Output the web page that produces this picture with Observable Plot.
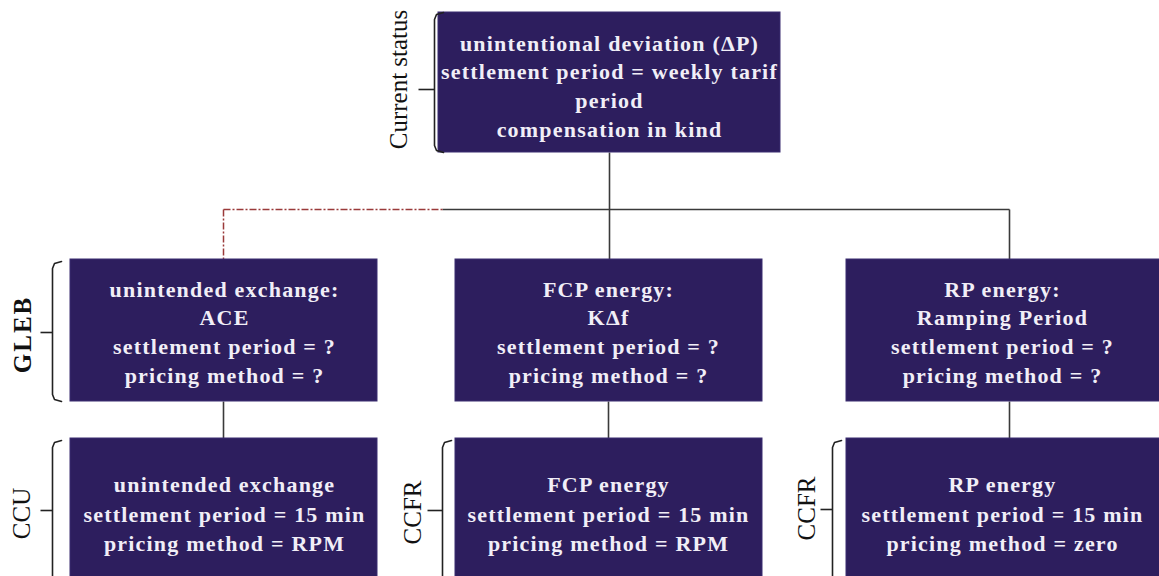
<!DOCTYPE html>
<html><head><meta charset="utf-8">
<script src="https://cdn.jsdelivr.net/npm/d3@7"></script>
<script src="https://cdn.jsdelivr.net/npm/@observablehq/plot@0.6"></script>
<style>body{margin:0;background:#fff;overflow:hidden}</style>
</head><body><div id="chart"></div>
<script>
// ---- content ----
const levelLabels = ["Current status", "GLEB", "CCU", "CCFR", "CCFR"];
const topLines = ["unintentional deviation (ΔP)", "settlement period = weekly tarif", "period", "compensation in kind"];
const glebTitles = ["unintended exchange:", "FCP energy:", "RP energy:"];
const glebQuantities = ["ACE", "KΔf", "Ramping Period"];
const glebSettlement = ["?", "?", "?"];
const glebPricing = ["?", "?", "?"];
const ccTitles = ["unintended exchange", "FCP energy", "RP energy"];
const ccSettlement = ["15 min", "15 min", "15 min"];
const ccPricing = ["RPM", "RPM", "zero"];

// ---- layout (pixels in a 1159 x 576 frame) ----
const W = 1159, H = 576;
const colX1 = [70, 455, 846], colX2 = [377, 762, 1175];
const colText = [224, 608, 1002];
const topBox = {x1: 438, x2: 780, y1: 12, y2: 152, cx: 609, cy: 84};
const row2 = {y1: 259, y2: 401, cy: 330};
const row3 = {y1: 438, y2: 600, cy: 512};
const busY = 209;

const boxes = [
  {x1: topBox.x1, x2: topBox.x2, y1: topBox.y1, y2: topBox.y2},
  ...colX1.map((x1, i) => ({x1, x2: colX2[i], y1: row2.y1, y2: row2.y2})),
  ...colX1.map((x1, i) => ({x1, x2: colX2[i], y1: row3.y1, y2: row3.y2}))
];
const upperTexts = [
  {x: topBox.cx, y: topBox.cy, t: topLines.join("\n")},
  ...glebTitles.map((t, i) => ({x: colText[i], y: row2.cy,
    t: [t, glebQuantities[i], "settlement period = " + glebSettlement[i], "pricing method = " + glebPricing[i]].join("\n")}))
];
const lowerTexts = ccTitles.map((t, i) => ({x: colText[i], y: row3.cy,
  t: [t, "settlement period = " + ccSettlement[i], "pricing method = " + ccPricing[i]].join("\n")}));

const links = [
  {x1: 609, y1: topBox.y2, x2: 609, y2: row2.y1},
  {x1: 442, y1: busY, x2: 1009, y2: busY},
  {x1: 1009, y1: busY, x2: 1009, y2: row2.y1},
  ...[223, 608, 1009].map(x => ({x1: x, y1: row2.y2, x2: x, y2: row3.y1}))
];
const redLinks = [
  {x1: 223, y1: busY, x2: 442, y2: busY},
  {x1: 223, y1: busY, x2: 223, y2: row2.y1}
];

// brackets: [x, top, bottom, tickY, tickLen]
const bracketGeom = [[434, 12, 152, 89, 16], [52, 261, 401, 332, 12], [52, 440, 590, 510, 12], [442, 440, 590, 510, 15], [832, 440, 590, 509, 12]];
const bracketPts = bracketGeom.flatMap(([x, t, b], k) => [
  {k, x: x + 9, y: t}, {k, x: x + 2, y: t + 2}, {k, x, y: t + 7}, {k, x, y: b - 7}, {k, x: x + 2, y: b - 2}, {k, x: x + 9, y: b}
]);
const ticks = bracketGeom.map(([x, t, b, ty, len]) => ({x1: x - len, x2: x, y: ty}));
const labelPos = [[398, 79], [22, 334], [21, 513], [412, 512], [806, 508]];
const labels = levelLabels.map((t, i) => ({t, x: labelPos[i][0], y: labelPos[i][1]}));
const plainLabels = labels.filter(d => d.t !== "GLEB");
const boldLabels = labels.filter(d => d.t === "GLEB");

const BOX = "#2d1e5e", TXT = "#f1eef7";

const svg = Plot.plot({
  width: W, height: H, margin: 0,
  x: {domain: [0, W], range: [0, W], axis: null},
  y: {domain: [0, H], range: [0, H], axis: null},
  style: {background: "#fff"},
  marks: [
    Plot.link(links, {x1: "x1", y1: "y1", x2: "x2", y2: "y2", stroke: "#3a3a3a", strokeWidth: 1.6}),
    Plot.link(redLinks, {x1: "x1", y1: "y1", x2: "x2", y2: "y2", stroke: "#9a3a3a", strokeWidth: 1.5, strokeDasharray: "7,2,2,2"}),
    Plot.rect(boxes, {x1: "x1", x2: "x2", y1: "y1", y2: "y2", fill: BOX, stroke: "#3b2c70", strokeWidth: 1}),
    Plot.text(upperTexts, {x: "x", y: "y", text: "t", lineHeight: 1.3, fill: TXT, fontSize: 22, fontWeight: "bold",
      fontFamily: "Liberation Serif", ariaDescription: "boxtext"}),
    Plot.text(lowerTexts, {x: "x", y: "y", text: "t", lineHeight: 1.34, fill: TXT, fontSize: 22, fontWeight: "bold",
      fontFamily: "Liberation Serif", ariaDescription: "boxtext"}),
    Plot.line(bracketPts, {x: "x", y: "y", z: "k", stroke: "#222", strokeWidth: 1.6, curve: "linear"}),
    Plot.link(ticks, {x1: "x1", x2: "x2", y1: "y", y2: "y", stroke: "#222", strokeWidth: 1.6}),
    Plot.text(plainLabels, {x: "x", y: "y", text: "t", rotate: -90, fill: "#111", fontSize: 25,
      fontFamily: "Liberation Serif"}),
    Plot.text(boldLabels, {x: "x", y: "y", text: "t", rotate: -90, fill: "#111", fontSize: 25, fontWeight: "bold",
      fontFamily: "Liberation Serif", ariaDescription: "boldlvl"})
  ]
});
d3.select(svg).selectAll('g[aria-description="boxtext"] text').attr("letter-spacing", "1.2px");
d3.select(svg).selectAll('g[aria-description="boldlvl"] text').attr("letter-spacing", "2px");
document.getElementById("chart").appendChild(svg);
</script>
</body></html>
